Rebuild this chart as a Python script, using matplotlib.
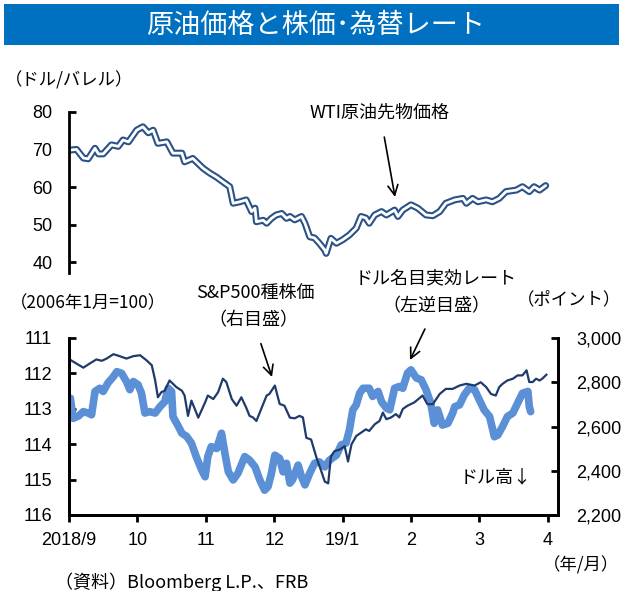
import matplotlib
matplotlib.use("Agg")
import matplotlib.pyplot as plt
import numpy as np

plt.rcParams['font.family'] = ['Noto Sans CJK JP', 'DejaVu Sans']

# x positions are in months from 2018/9 (0) to 2019/4 (7)
month_ticks = [0, 1, 2, 3, 4, 5, 6, 7]
month_labels = ['2018/9', '10', '11', '12', '19/1', '2', '3', '4']

# WTI crude futures (USD/barrel)
wti_x = [0.01, 0.11, 0.21, 0.28, 0.38, 0.43, 0.50, 0.62, 0.72, 0.79, 0.87, 0.99,
         1.08, 1.16, 1.23, 1.30, 1.43, 1.52, 1.65, 1.69, 1.81, 1.96, 2.06, 2.16,
         2.25, 2.35, 2.40, 2.50, 2.59, 2.67, 2.72, 2.74, 2.84, 2.89, 2.96, 3.03,
         3.11, 3.18, 3.23, 3.30, 3.40, 3.45, 3.52, 3.59, 3.66, 3.74, 3.76, 3.83,
         3.91, 4.00, 4.10, 4.20, 4.27, 4.34, 4.39, 4.47, 4.57, 4.64, 4.76, 4.81,
         4.88, 5.00, 5.10, 5.22, 5.32, 5.42, 5.51, 5.64, 5.76, 5.81, 5.90, 5.98,
         6.10, 6.19, 6.29, 6.39, 6.54, 6.63, 6.73, 6.80, 6.88, 6.97]
wti_y = [69.8, 70.0, 67.7, 67.5, 70.3, 68.8, 68.8, 71.2, 70.8, 72.5, 72.0, 75.1,
         76.0, 74.4, 75.1, 71.6, 72.0, 69.0, 69.0, 66.7, 67.6, 65.0, 63.7, 62.6,
         61.4, 60.1, 55.7, 56.1, 56.6, 53.5, 54.4, 50.8, 51.2, 50.4, 51.7, 52.6,
         53.0, 51.7, 52.2, 51.3, 52.2, 50.4, 46.8, 46.5, 45.1, 43.3, 42.4, 46.4,
         45.1, 46.0, 47.3, 49.1, 52.2, 51.8, 50.4, 52.6, 53.5, 52.6, 53.9, 52.2,
         53.9, 55.3, 54.4, 52.6, 52.4, 53.5, 55.7, 56.6, 57.0, 55.7, 57.0, 56.1,
         56.6, 56.1, 57.0, 58.8, 59.2, 60.1, 58.8, 60.1, 59.2, 60.4]

# Dollar nominal effective rate (2006/1 = 100), left inverted axis
usd_x = [0.02, 0.06, 0.14, 0.21, 0.28, 0.33, 0.38, 0.45, 0.50, 0.57, 0.65, 0.70,
         0.77, 0.84, 0.89, 0.94, 1.01, 1.06, 1.11, 1.18, 1.26, 1.33, 1.40, 1.45,
         1.50, 1.52, 1.60, 1.65, 1.72, 1.79, 1.86, 1.94, 1.99, 2.03, 2.08, 2.16,
         2.23, 2.28, 2.33, 2.40, 2.47, 2.57, 2.64, 2.72, 2.79, 2.86, 2.91, 2.96,
         3.01, 3.08, 3.13, 3.18, 3.23, 3.27, 3.35, 3.40, 3.45, 3.52, 3.59, 3.66,
         3.74, 3.81, 3.91, 3.98, 4.05, 4.10, 4.15, 4.20, 4.25, 4.30, 4.39, 4.44,
         4.52, 4.57, 4.64, 4.69, 4.76, 4.83, 4.88, 4.95, 5.00, 5.08, 5.15, 5.22,
         5.29, 5.34, 5.39, 5.46, 5.54, 5.61, 5.64, 5.71, 5.78, 5.85, 5.93, 6.00,
         6.07, 6.15, 6.22, 6.27, 6.34, 6.41, 6.49, 6.56, 6.63, 6.71, 6.73, 6.75]
usd_y = [112.70, 113.27, 113.20, 113.08, 113.12, 113.17, 112.51, 112.42, 112.51,
         112.27, 112.09, 111.95, 112.00, 112.23, 112.46, 112.23, 112.32, 112.56,
         113.12, 113.08, 113.12, 112.94, 112.80, 112.42, 112.51, 113.22, 113.50,
         113.69, 113.78, 113.97, 114.35, 114.73, 114.92, 114.35, 114.07, 114.12,
         113.69, 114.26, 114.78, 115.01, 114.82, 114.35, 114.45, 114.64, 115.01,
         115.30, 115.20, 114.82, 114.31, 114.40, 114.78, 114.54, 115.10, 115.00,
         114.59, 114.92, 115.15, 114.82, 114.54, 114.50, 114.64, 114.45, 114.31,
         114.02, 113.97, 113.60, 113.03, 112.89, 112.56, 112.42, 112.42, 112.65,
         112.51, 112.80, 112.98, 113.03, 112.42, 112.37, 112.42, 111.99, 111.90,
         112.13, 112.18, 112.46, 112.84, 113.41, 113.03, 113.46, 113.41, 113.12,
         112.94, 112.89, 112.61, 112.42, 112.46, 112.75, 113.03, 113.22, 113.79,
         113.74, 113.50, 113.22, 113.12, 112.84, 112.56, 112.51, 112.94, 113.08]

# S&P500 (points), right axis
spx_x = [0.01, 0.11, 0.21, 0.31, 0.40, 0.48, 0.55, 0.65, 0.74, 0.84, 0.94, 1.04,
         1.13, 1.21, 1.26, 1.30, 1.35, 1.40, 1.47, 1.52, 1.57, 1.65, 1.69, 1.74,
         1.79, 1.84, 1.89, 1.99, 2.03, 2.11, 2.18, 2.25, 2.30, 2.38, 2.45, 2.52,
         2.59, 2.64, 2.69, 2.74, 2.81, 2.89, 2.93, 3.01, 3.08, 3.15, 3.23, 3.30,
         3.37, 3.42, 3.47, 3.54, 3.62, 3.69, 3.74, 3.79, 3.83, 3.88, 3.96, 4.03,
         4.08, 4.13, 4.20, 4.27, 4.34, 4.39, 4.47, 4.54, 4.59, 4.64, 4.71, 4.78,
         4.83, 4.88, 4.95, 5.05, 5.17, 5.24, 5.32, 5.37, 5.42, 5.51, 5.61, 5.71,
         5.81, 5.93, 6.02, 6.10, 6.17, 6.24, 6.29, 6.34, 6.41, 6.49, 6.56, 6.63,
         6.69, 6.73, 6.78, 6.83, 6.88, 6.92, 6.98]
spx_y = [2903, 2884, 2866, 2886, 2903, 2897, 2907, 2927, 2918, 2907, 2918, 2922,
         2900, 2877, 2808, 2732, 2755, 2762, 2808, 2793, 2778, 2762, 2740, 2648,
         2717, 2679, 2640, 2709, 2740, 2724, 2755, 2816, 2801, 2724, 2694, 2732,
         2686, 2648, 2641, 2625, 2679, 2740, 2747, 2785, 2702, 2694, 2640, 2637,
         2648, 2641, 2549, 2541, 2458, 2397, 2351, 2343, 2465, 2488, 2496, 2511,
         2442, 2519, 2557, 2572, 2587, 2580, 2610, 2625, 2663, 2633, 2641, 2656,
         2641, 2679, 2694, 2709, 2740, 2701, 2701, 2724, 2747, 2770, 2770, 2785,
         2793, 2785, 2800, 2778, 2747, 2740, 2778, 2793, 2808, 2816, 2831, 2831,
         2854, 2801, 2801, 2816, 2808, 2816, 2834]

W, H = 623, 591
DARK = '#2A5287'
NAVY = '#203A6B'
LIGHT = '#5B8FD6'
BAR = '#0070C0'
FS = 12.5
TICK_FONT = ['Liberation Sans', 'Noto Sans CJK JP']


def fx(px):
    return px / W


def fy(py):
    return 1 - py / H


def tick_font(axis_obj):
    for lab in axis_obj.get_ticklabels():
        lab.set_family(TICK_FONT)
        lab.set_fontsize(13)


fig = plt.figure(figsize=(W / 100, H / 100), dpi=100)

# title bar
fig.patches.append(plt.Rectangle((fx(4), fy(45)), fx(615), 41 / H, transform=fig.transFigure,
                                 facecolor=BAR, edgecolor='none'))
fig.text(fx(316), fy(25), '原油価格と株価･為替レート', color='white', fontsize=19.5,
         ha='center', va='center')

# ---- top panel: WTI ----
ax1 = fig.add_axes([fx(69), fy(273), fx(558 - 69), (273 - 111.7) / H])
ax1.plot(wti_x, wti_y, color=DARK, lw=5.0, solid_joinstyle='round', solid_capstyle='round')
ax1.plot(wti_x, wti_y, color='white', lw=2.0, solid_joinstyle='round', solid_capstyle='round')
ax1.set_xlim(0, 7.15)
ax1.set_ylim(37.2, 80)
ax1.set_yticks([40, 50, 60, 70, 80])
for s in ['top', 'right', 'bottom']:
    ax1.spines[s].set_visible(False)
ax1.spines['left'].set_linewidth(2)
ax1.set_xticks([])
ax1.tick_params(axis='y', direction='in', length=5, width=2, pad=12)
tick_font(ax1.yaxis)

fig.text(fx(5), fy(80), '（ドル/バレル）', fontsize=FS, ha='left', va='center')
ax1.annotate('WTI原油先物価格', xy=(fx(395), fy(197)), xycoords='figure fraction',
             xytext=(fx(380), fy(113)), textcoords='figure fraction',
             ha='center', va='center', fontsize=13,
             arrowprops=dict(arrowstyle='->', color='black', lw=1.2,
                             shrinkA=9, shrinkB=0, mutation_scale=18))

# ---- bottom panel: dollar index & S&P500 ----
ax = fig.add_axes([fx(69), fy(515), fx(558 - 69), (515 - 338) / H])
ax.plot(usd_x, usd_y, color=LIGHT, lw=5.5, solid_joinstyle='round', solid_capstyle='round')
ax.set_xlim(0, 7.15)
ax.set_ylim(116, 111)
ax.set_yticks([111, 112, 113, 114, 115, 116])
ax.set_xticks(month_ticks)
ax.set_xticklabels(month_labels)
ax.spines['top'].set_visible(False)
for s in ['left', 'bottom', 'right']:
    ax.spines[s].set_linewidth(2)
ax.tick_params(axis='y', direction='in', length=5, width=2, pad=12)
ax.tick_params(axis='x', direction='out', length=5, width=2, pad=7)
tick_font(ax.yaxis)
tick_font(ax.xaxis)

ax2 = ax.twinx()
ax2.plot(spx_x, spx_y, color=NAVY, lw=1.6)
ax2.set_ylim(2200, 3000)
ax2.set_yticks([2200, 2400, 2600, 2800, 3000])
ax2.set_yticklabels(['2,200', '2,400', '2,600', '2,800', '3,000'])
ax2.spines['top'].set_visible(False)
for s in ['left', 'bottom', 'right']:
    ax2.spines[s].set_linewidth(2)
ax2.tick_params(axis='y', direction='in', length=5, width=2, pad=13)
tick_font(ax2.yaxis)

fig.text(fx(10), fy(303), '（2006年1月=100）', fontsize=FS, ha='left', va='center')
fig.text(fx(621), fy(299), '（ポイント）', fontsize=FS, ha='right', va='center')
fig.text(fx(255), fy(293), 'S&P500種株価', fontsize=13, ha='center', va='center')
fig.text(fx(436), fy(278), 'ドル名目実効レート', fontsize=13, ha='center', va='center')
fig.text(fx(496), fy(477), 'ドル高↓', fontsize=13, ha='center', va='center')
fig.text(fx(619), fy(565), '（年/月）', fontsize=FS, ha='right', va='center')
fig.text(fx(55), fy(582), '（資料）Bloomberg L.P.、FRB', fontsize=13, ha='left', va='center')

arrow = dict(arrowstyle='->', color='black', lw=1.2, shrinkA=9, shrinkB=0, mutation_scale=18)
ax.annotate('（右目盛）', xy=(fx(272), fy(377)), xycoords='figure fraction',
            xytext=(fx(253), fy(320)), textcoords='figure fraction',
            ha='center', va='center', fontsize=13, arrowprops=arrow)
ax.annotate('（左逆目盛）', xy=(fx(410), fy(360)), xycoords='figure fraction',
            xytext=(fx(436), fy(306)), textcoords='figure fraction',
            ha='center', va='center', fontsize=13, arrowprops=arrow)

fig.savefig('out.png', dpi=100)
